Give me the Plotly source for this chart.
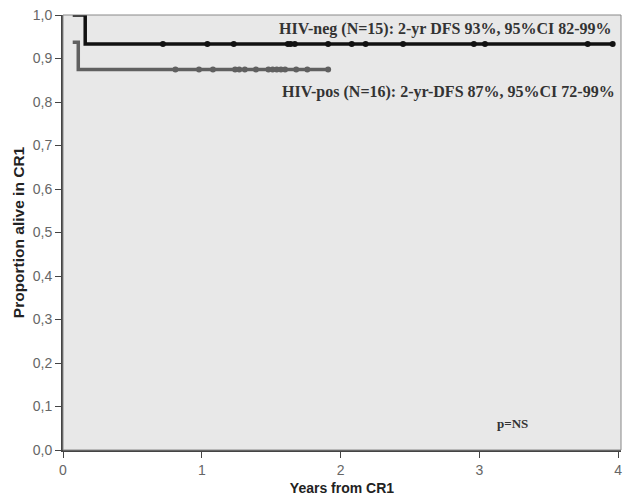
import plotly.graph_objects as go

# Kaplan-Meier step data (years from CR1, proportion alive in CR1)
neg_step_x = [0.07, 0.16, 3.96]
neg_step_y = [1.0, 0.9333, 0.9333]
neg_cens_x = [0.72, 1.04, 1.23, 1.62, 1.64, 1.67, 1.91, 2.08, 2.18, 2.45, 2.96, 3.04, 3.78, 3.96]

pos_step_x = [0.07, 0.11, 1.91]
pos_step_y = [0.9375, 0.875, 0.875]
pos_cens_x = [0.81, 0.98, 1.08, 1.24, 1.27, 1.31, 1.39, 1.48, 1.51, 1.54, 1.57, 1.60, 1.68, 1.76, 1.91]

x_ticks = [0, 1, 2, 3, 4]
y_ticks = [0.0, 0.1, 0.2, 0.3, 0.4, 0.5, 0.6, 0.7, 0.8, 0.9, 1.0]

neg_label = "HIV-neg (N=15): 2-yr DFS 93%, 95%CI 82-99%"
pos_label = "HIV-pos (N=16): 2-yr-DFS 87%, 95%CI 72-99%"

fig = go.Figure()
fig.add_trace(go.Scatter(x=pos_step_x, y=pos_step_y, mode="lines", line=dict(shape="hv", color="#606060", width=3.5), hoverinfo="skip"))
fig.add_trace(go.Scatter(x=pos_cens_x, y=[pos_step_y[-1]] * len(pos_cens_x), mode="markers",
                         marker=dict(symbol="circle", size=6, color="#606060")))
fig.add_trace(go.Scatter(x=neg_step_x, y=neg_step_y, mode="lines", line=dict(shape="hv", color="#111111", width=3.5), hoverinfo="skip"))
fig.add_trace(go.Scatter(x=neg_cens_x, y=[neg_step_y[-1]] * len(neg_cens_x), mode="markers",
                         marker=dict(symbol="circle", size=6, color="#111111")))

serif = dict(family="Liberation Serif, Times New Roman, serif", size=16, color="#333333")
fig.add_annotation(x=3.97, y=0.968, xref="x", yref="y", text="<b>" + neg_label + "</b>", showarrow=False, xanchor="right", font=serif)
fig.add_annotation(x=3.99, y=0.822, xref="x", yref="y", text="<b>" + pos_label + "</b>", showarrow=False, xanchor="right", font=serif)
fig.add_annotation(x=3.24, y=0.062, xref="x", yref="y", text="<b>p=NS</b>", showarrow=False, xanchor="center",
                   font=dict(family="Liberation Serif, serif", size=13, color="#333333"))

fig.update_layout(
    width=623, height=493,
    margin=dict(l=55, r=10, t=7, b=51),
    paper_bgcolor="white", plot_bgcolor="#e8e8e8",
    showlegend=False,
    separators=", ",
    font=dict(family="Liberation Sans, Arial, sans-serif", size=13, color="#555555"),
    xaxis=dict(range=[0, 4.02], tickvals=x_ticks, ticks="outside", ticklen=6, tickcolor="#444",
               showline=True, linecolor="#444", linewidth=2, mirror=False, showgrid=False, zeroline=False,
               automargin=False, ticklabeloverflow="allow",
               title=dict(text="<b>Years from CR1</b>", font=dict(size=14, color="#222"), standoff=6),
               tickfont=dict(size=14, color="#666")),
    yaxis=dict(range=[0, 1.0], tickvals=y_ticks, tickformat=".1f", ticks="outside", ticklen=6, tickcolor="#444",
               showline=True, linecolor="#444", linewidth=2, showgrid=False, zeroline=False,
               automargin=False, ticklabeloverflow="allow",
               title=dict(text="<b>Proportion alive in CR1</b>", font=dict(size=15.5, color="#222"), standoff=4),
               tickfont=dict(size=14, color="#666")),
)
# thin frame on top/right
fig.add_shape(type="rect", xref="paper", yref="paper", x0=0, y0=0, x1=1, y1=1, line=dict(color="#888", width=1), layer="above")

fig.write_html("out.html")
